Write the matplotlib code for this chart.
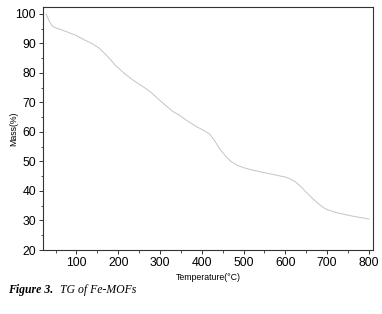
import numpy as np
import matplotlib.pyplot as plt
from matplotlib.ticker import MultipleLocator

# TG curve
temp = [27, 31, 35, 40, 45, 52, 60, 75, 100, 123, 140, 155, 175, 195, 215, 235, 250,
        265, 280, 291, 310, 331, 347, 367, 387, 405, 419, 430, 443, 457, 470, 485,
        500, 520, 540, 560, 580, 600, 610, 623, 637, 650, 665, 680, 692, 700, 715,
        730, 760, 800]
mass = [100, 98.8, 97.5, 96.3, 95.6, 95.1, 94.8, 94.0, 92.6, 90.9, 89.7, 88.3, 85.5,
        82.3, 79.8, 77.6, 76.2, 74.8, 73.2, 71.8, 69.4, 66.9, 65.6, 63.6, 61.8, 60.5,
        59.3, 57.2, 54.3, 51.8, 50.0, 48.7, 47.9, 47.1, 46.5, 45.9, 45.3, 44.7, 44.2,
        43.2, 41.5, 39.6, 37.5, 35.6, 34.3, 33.7, 33.0, 32.4, 31.5, 30.5]

plt.rcParams['font.family'] = ['Liberation Sans', 'DejaVu Sans']

fig = plt.figure(figsize=(3.82, 3.14), dpi=100)
ax = fig.add_axes([0.1126, 0.2038, 0.8638, 0.7739])

ax.plot(temp, mass, color="#c4c4c4", lw=0.7)

ax.set_xlim(20, 810)
ax.set_ylim(20, 102.3)
ax.xaxis.set_major_locator(MultipleLocator(100))
ax.xaxis.set_minor_locator(MultipleLocator(50))
ax.yaxis.set_major_locator(MultipleLocator(10))
ax.yaxis.set_minor_locator(MultipleLocator(5))
ax.tick_params(which="major", length=3, width=0.7, labelsize=8.8, pad=2, color="#333333")
ax.tick_params(which="minor", length=1.8, width=0.6, color="#333333")
for s in ax.spines.values():
    s.set_linewidth(0.8)
    s.set_color("#333333")

ax.set_xlabel("Temperature(°C)", fontsize=6.3, labelpad=3)
ax.set_ylabel("Mass(%)", fontsize=6.3, labelpad=-2)

fig.text(0.02, 0.068, r"Figure 3.", fontsize=8.5, family="Liberation Serif",
         style="italic", weight="bold")
fig.text(0.158, 0.068, "TG of Fe-MOFs", fontsize=8.5, family="Liberation Serif",
         style="italic")

fig.savefig("out.png", dpi=100)
